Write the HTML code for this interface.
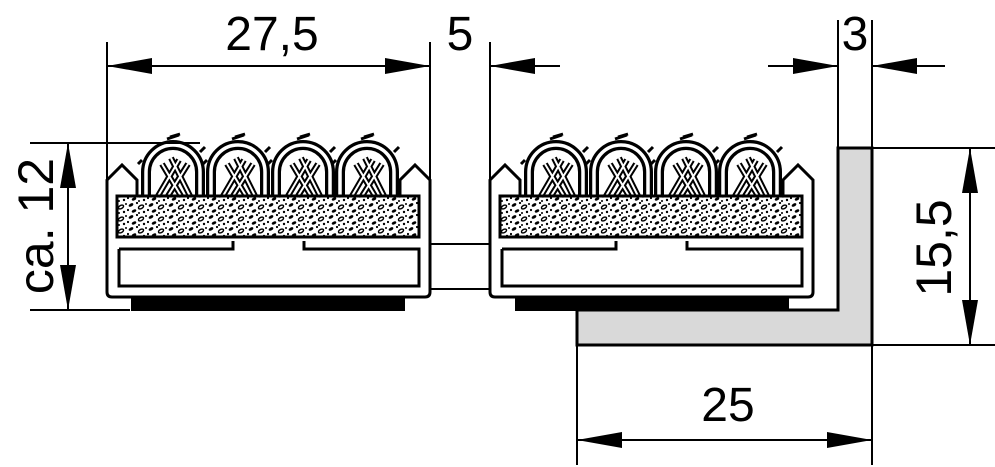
<!DOCTYPE html>
<html><head><meta charset="utf-8"><style>
html,body{margin:0;padding:0;background:#fff;}
svg{display:block;}
text{font-family:"Liberation Sans","DejaVu Sans",sans-serif;fill:#000;}
</style></head><body>
<svg width="995" height="467" viewBox="0 0 995 467" xmlns="http://www.w3.org/2000/svg">
<defs>
<pattern id="foam" width="20" height="12" patternUnits="userSpaceOnUse">
<ellipse cx="4" cy="3" rx="2.6" ry="1.5" fill="#000" transform="rotate(-30 4 3)"/>
<ellipse cx="14" cy="5" rx="2.8" ry="1.6" fill="none" stroke="#000" stroke-width="1.4" transform="rotate(-30 14 5)"/>
<circle cx="10" cy="1" r="1.1" fill="#000"/><circle cx="17" cy="10" r="1.2" fill="#000"/>
<ellipse cx="7" cy="9" rx="2.4" ry="1.4" fill="#000" transform="rotate(-25 7 9)"/>
<circle cx="1" cy="8" r="1.1" fill="#000"/><circle cx="12" cy="11" r="1" fill="#000"/>
<circle cx="19" cy="2" r="1" fill="#000"/>
</pattern>
<g id="loop">
<path d="M-27 24 L-27 0 A27 27 0 0 1 27 0 L27 24" fill="#fff" stroke="#000" stroke-width="10"/>
<path d="M-27 24 L-27 0 A27 27 0 0 1 27 0 L27 24" fill="none" stroke="#fff" stroke-width="3.5"/>
<path d="M-15 24 L6 -12 M-5 24 L15 -8 M8 24 L-11 -8 M17 24 L-2 -14" stroke="#000" stroke-width="6"/>
<path d="M-15 24 L6 -12 M-5 24 L15 -8 M8 24 L-11 -8 M17 24 L-2 -14" stroke="#fff" stroke-width="2"/>
<path d="M-6 -33 l12 -4 M-3 -35 l10 -3 M27 -20 l5 -5 M-31 -12 l-4 4" stroke="#000" stroke-width="3"/>
</g>
<g id="prof">
<path d="M0 50 L15 35 L30 50 L30 66 L293 66 L293 50 L308 35 L323 50 L323 162 Q323 167 318 167 L5 167 Q0 167 0 162 Z" fill="#fff" stroke="#000" stroke-width="3"/>
<use href="#loop" x="66" y="42"/><use href="#loop" x="131" y="42"/><use href="#loop" x="196" y="42"/><use href="#loop" x="260" y="42"/>
<rect x="10" y="66" width="302" height="41" fill="#fff" stroke="#000" stroke-width="3"/>
<rect x="10" y="66" width="302" height="41" fill="url(#foam)"/>
<path d="M12 119 L12 156 L312 156 L312 119 L197 119 L197 111 M126 111 L126 119 L12 119" fill="none" stroke="#000" stroke-width="3"/>
</g>
</defs>

<path d="M838 148 L872 148 L872 345 L577 345 L577 310 L838 310 Z" fill="#d9d9d9" stroke="#000" stroke-width="3"/>

<use href="#prof" x="107" y="130"/>
<rect x="131" y="297" width="274" height="14" fill="#000"/>
<use href="#prof" x="490" y="130"/>
<rect x="515" y="297" width="274" height="14" fill="#000"/>

<path d="M430 244 L490 244 M430 289 L490 289" stroke="#000" stroke-width="2"/>

<g stroke="#000" stroke-width="2" fill="none">
<path d="M107 42 L107 180 M430 42 L430 244 M490 42 L490 180"/>
<path d="M838 20 L838 148 M872 20 L872 465 M577 310 L577 465"/>
<path d="M30 143 L200 143 M30 310 L130 310"/>
<path d="M872 148 L995 148 M872 345 L995 345"/>
<path d="M107 66 L430 66 M490 66 L560 66 M768 66 L838 66 M872 66 L945 66"/>
<path d="M68 143 L68 310 M970 148 L970 345 M577 440 L872 440"/>
</g>
<g fill="#000">
<path d="M107 66 l45 -8 l0 16 Z"/><path d="M430 66 l-45 -8 l0 16 Z"/>
<path d="M490 66 l45 -8 l0 16 Z"/>
<path d="M838 66 l-45 -8 l0 16 Z"/><path d="M872 66 l45 -8 l0 16 Z"/>
<path d="M68 143 l-8 45 l16 0 Z"/><path d="M68 310 l-8 -45 l16 0 Z"/>
<path d="M970 148 l-8 45 l16 0 Z"/><path d="M970 345 l-8 -45 l16 0 Z"/>
<path d="M577 440 l45 -8 l0 16 Z"/><path d="M872 440 l-45 -8 l0 16 Z"/>
</g>

<text x="272" y="50" font-size="48" text-anchor="middle">27,5</text>
<text x="460" y="50" font-size="48" text-anchor="middle">5</text>
<text x="855" y="50" font-size="48" text-anchor="middle">3</text>
<text x="728" y="421" font-size="48" text-anchor="middle">25</text>
<text transform="translate(53 226) rotate(-90)" font-size="50" text-anchor="middle">ca. 12</text>
<text transform="translate(951 248) rotate(-90)" font-size="50" text-anchor="middle">15,5</text>
</svg>
</body></html>
